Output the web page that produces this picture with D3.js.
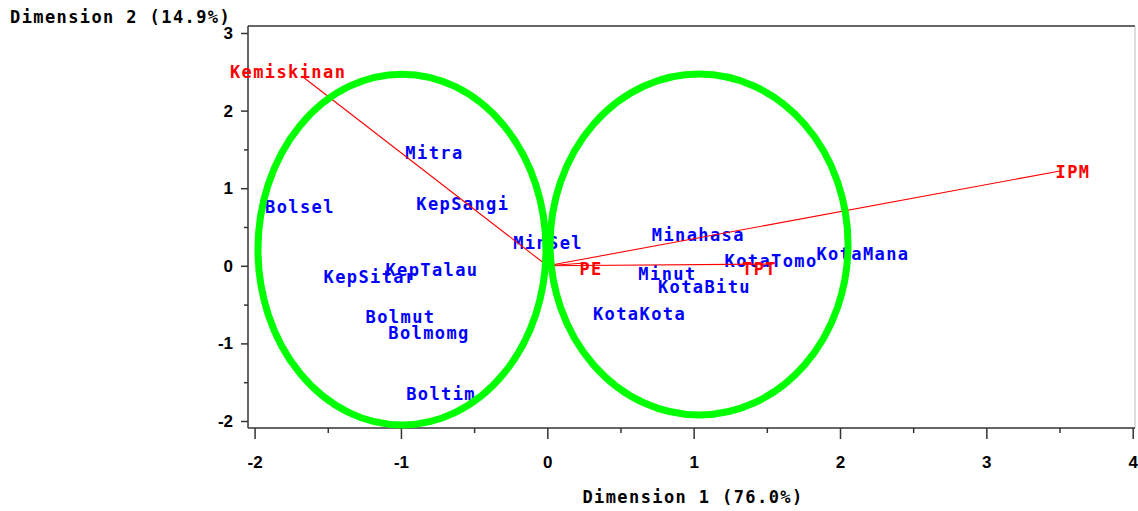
<!DOCTYPE html>
<html>
<head>
<meta charset="utf-8">
<script src="https://cdn.jsdelivr.net/npm/d3@7"></script>
<style>
  body { margin: 0; background: #fff; }
  svg { display: block; }
  .lbl { font-family: "DejaVu Sans Mono", monospace; font-weight: bold; font-size: 17px; letter-spacing: 1.4px; }
  .major .tick text { font-family: "Liberation Sans", Arial, sans-serif; font-weight: bold; font-size: 17px; fill: #000; }
</style>
</head>
<body>
<svg id="chart" width="1138" height="511"></svg>
<script>
// row points (label centres, dimension 1 / dimension 2)
var pointNames = ["Mitra", "Bolsel", "KepSangi", "MinSel", "KepTalau", "KepSitar", "Bolmut", "Bolmomg", "Boltim",
                  "Minahasa", "KotaTomo", "KotaMana", "Minut", "KotaBitu", "KotaKota"];
var pointDim1 = [-0.771, -1.690, -0.577, 0.005, -0.788, -1.211, -1.003, -0.808, -0.726,
                 1.032, 1.529, 2.157, 0.821, 1.074, 0.630];
var pointDim2 = [1.454, 0.758, 0.796, 0.294, -0.054, -0.144, -0.660, -0.866, -1.652,
                 0.397, 0.062, 0.152, -0.106, -0.273, -0.621];

// column vectors
var vecNames = ["Kemiskinan", "IPM", "TPT", "PE"];
var vecDim1 = [-1.678, 3.503, 1.54, 0.258];
var vecDim2 = [2.446, 1.222, 0.023, 0.036];
var vecLabDim1 = [-1.771, 3.592, 1.450, 0.299];
var vecLabDim2 = [2.497, 1.209, -0.041, -0.041];

// cluster ellipses
var clusterCx = [-0.993, 1.037];
var clusterCy = [0.21, 0.274];
var clusterRx = [0.984, 1.018];
var clusterRy = [2.26, 2.197];

var xMajor = [-2, -1, 0, 1, 2, 3, 4];
var yMajor = [-2, -1, 0, 1, 2, 3];
var xMinor = [-1.5, -0.5, 0.5, 1.5, 2.5, 3.5];
var yMinor = [-1.5, -0.5, 0.5, 1.5, 2.5];

var svg = d3.select("#chart");

var frame = {left: 248, right: 1135, top: 26, bottom: 428};

var x = d3.scaleLinear().domain([-2, 4]).range([254.6, 1132.7]);
var y = d3.scaleLinear().domain([-2, 3]).range([421, 33]);

var fmt = function(d) { return d < 0 ? "-" + Math.abs(d) : String(d); };

// frame
svg.append("line").attr("x1", frame.left).attr("x2", frame.right).attr("y1", frame.top).attr("y2", frame.top)
  .attr("stroke", "#333").attr("stroke-width", 1.5);
svg.append("line").attr("x1", frame.right).attr("x2", frame.right).attr("y1", frame.top).attr("y2", frame.bottom)
  .attr("stroke", "#bbb").attr("stroke-width", 1);

// x axis
var xAxis = svg.append("g")
  .attr("class", "major")
  .attr("transform", "translate(0," + frame.bottom + ")")
  .call(d3.axisBottom(x).tickValues(xMajor).tickSize(11).tickPadding(17).tickFormat(fmt));
xAxis.select(".domain").remove();
xAxis.selectAll(".tick line").attr("stroke", "#333").attr("stroke-width", 1.5);
svg.append("g")
  .attr("transform", "translate(0," + frame.bottom + ")")
  .call(d3.axisBottom(x).tickValues(xMinor).tickSize(5).tickFormat(""))
  .call(g => g.select(".domain").remove())
  .selectAll(".tick line").attr("stroke", "#333").attr("stroke-width", 1.5);
svg.append("line").attr("x1", frame.left).attr("x2", frame.right).attr("y1", frame.bottom).attr("y2", frame.bottom)
  .attr("stroke", "#333").attr("stroke-width", 1.5);

// y axis
var yAxis = svg.append("g")
  .attr("class", "major")
  .attr("transform", "translate(" + frame.left + ",0)")
  .call(d3.axisLeft(y).tickValues(yMajor).tickSize(7).tickPadding(8).tickFormat(fmt));
yAxis.select(".domain").remove();
yAxis.selectAll(".tick line").attr("stroke", "#333").attr("stroke-width", 1.5);
svg.append("g")
  .attr("transform", "translate(" + frame.left + ",0)")
  .call(d3.axisLeft(y).tickValues(yMinor).tickSize(4).tickFormat(""))
  .call(g => g.select(".domain").remove())
  .selectAll(".tick line").attr("stroke", "#333").attr("stroke-width", 1.5);
svg.append("line").attr("x1", frame.left).attr("x2", frame.left).attr("y1", frame.top).attr("y2", frame.bottom)
  .attr("stroke", "#333").attr("stroke-width", 1.5);

// axis titles
svg.append("text").attr("class", "lbl")
  .attr("x", 10).attr("y", 17).attr("dominant-baseline", "central")
  .attr("fill", "#000")
  .text("Dimension 2 (14.9%)");
svg.append("text").attr("class", "lbl")
  .attr("x", 693).attr("y", 497).attr("dominant-baseline", "central")
  .attr("text-anchor", "middle").attr("fill", "#000")
  .text("Dimension 1 (76.0%)");

// row labels
svg.selectAll(".pt")
  .data(pointNames)
  .enter()
  .append("text")
  .attr("class", "lbl pt")
  .attr("x", (d, i) => x(pointDim1[i]))
  .attr("y", (d, i) => y(pointDim2[i]))
  .attr("text-anchor", "middle")
  .attr("dominant-baseline", "central")
  .attr("fill", "#0000ff")
  .text(d => d);

// vectors
svg.selectAll(".vec")
  .data(vecNames)
  .enter()
  .append("line")
  .attr("class", "vec")
  .attr("x1", x(0)).attr("y1", y(0))
  .attr("x2", (d, i) => x(vecDim1[i]))
  .attr("y2", (d, i) => y(vecDim2[i]))
  .attr("stroke", "#ff0000")
  .attr("stroke-width", 1.1);

svg.selectAll(".veclbl")
  .data(vecNames)
  .enter()
  .append("text")
  .attr("class", "lbl veclbl")
  .attr("x", (d, i) => x(vecLabDim1[i]))
  .attr("y", (d, i) => y(vecLabDim2[i]))
  .attr("text-anchor", "middle")
  .attr("dominant-baseline", "central")
  .attr("fill", "#ff0000")
  .text(d => d);

// cluster ellipses
svg.selectAll(".cluster")
  .data(clusterCx)
  .enter()
  .append("ellipse")
  .attr("class", "cluster")
  .attr("cx", d => x(d))
  .attr("cy", (d, i) => y(clusterCy[i]))
  .attr("rx", (d, i) => x(clusterRx[i]) - x(0))
  .attr("ry", (d, i) => y(0) - y(clusterRy[i]))
  .attr("fill", "none")
  .attr("stroke", "#00ff00")
  .attr("stroke-width", 7);
</script>
</body>
</html>
